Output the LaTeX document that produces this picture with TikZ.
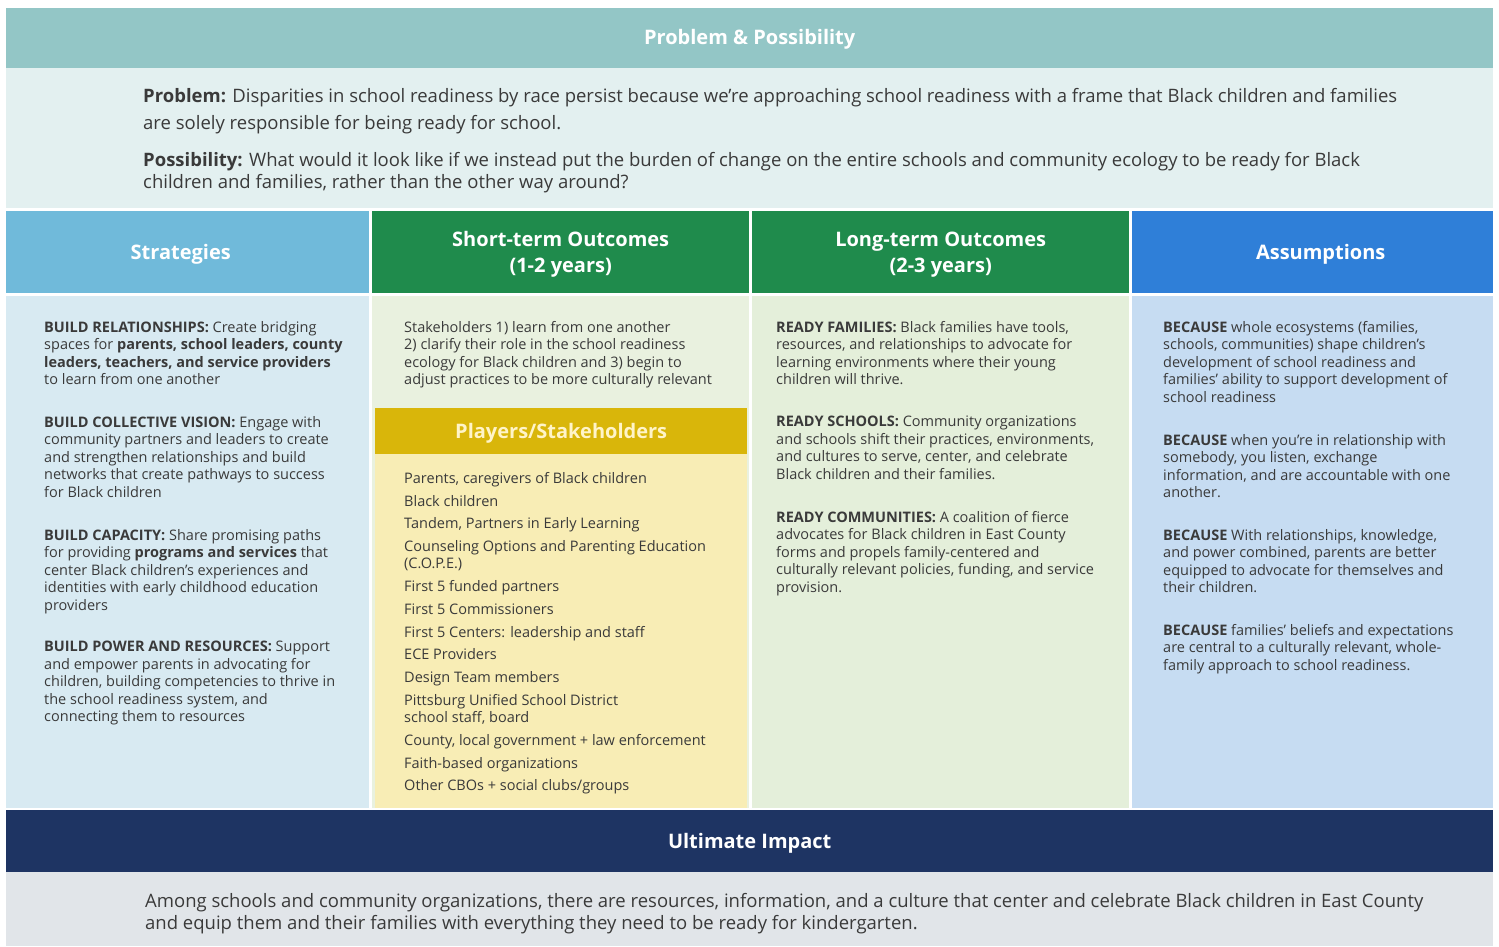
\documentclass[tikz,border=0pt]{standalone}
\usepackage{fontspec}
\setmainfont{Open Sans}
\definecolor{tealband}{HTML}{93C6C6}
\definecolor{teallight}{HTML}{E3F0F0}
\definecolor{stratblue}{HTML}{70BADA}
\definecolor{stratlight}{HTML}{D8EAF2}
\definecolor{outgreen}{HTML}{1F8B4C}
\definecolor{shortlight}{HTML}{E9F1DF}
\definecolor{longlight}{HTML}{E4EFDA}
\definecolor{playgold}{HTML}{D9B60A}
\definecolor{playlight}{HTML}{F8EDB5}
\definecolor{playtext}{HTML}{FFF4C8}
\definecolor{assumblue}{HTML}{2F7FD8}
\definecolor{assumlight}{HTML}{C6DCF2}
\definecolor{impactnavy}{HTML}{1E3463}
\definecolor{impactlight}{HTML}{E1E5E9}
\definecolor{inkgray}{HTML}{3A3A3A}
\newcommand\bodyfont{\fontsize{14.5}{17.5}\selectfont}
\newcommand\hdfont{\fontsize{20}{26}\selectfont\bfseries}
\newcommand\topfont{\fontsize{18.5}{22}\selectfont}
\tikzset{
	boxstyle/.style={anchor=north west, inner sep=0pt, draw=none},
	titlestyle/.style={text=white, font=\hdfont, align=center, yshift=-2.5pt},
	textstyle/.style={anchor=north west, inner sep=0pt, align=left, font=\bodyfont, text=inkgray}
}

\begin{document}
\begin{tikzpicture}[x=1pt, y=-1pt]

\def\colA{44}
\def\colB{404}
\def\colC{776}
\def\colD{1163}

\useasboundingbox[fill=white] (0,0) rectangle (1499,946);

% problem and possibility
\node[boxstyle, fill=tealband, minimum width=1487, minimum height=60] (pp) at (6,8) {};
\node[titlestyle, yshift=1.5pt] (pptitle) at (pp.center) {Problem \& Possibility};
\node[boxstyle, fill=teallight, minimum width=1487, minimum height=140] (ppbody) at (6,68) {};
\node[textstyle, font=\topfont] (problem) at (143,88) {\textbf{Problem:} Disparities in school readiness by race persist because we're approaching school readiness with a frame that Black children and families\\[5pt] are solely responsible for being ready for school.};
\node[textstyle, font=\topfont] (possibility) at (143,152) {\textbf{Possibility:} What would it look like if we instead put the burden of change on the entire schools and community ecology to be ready for Black\\ children and families, rather than the other way around?};

% column heads
\node[boxstyle, fill=stratblue, minimum width=363, minimum height=82] (h1) at (6,211) {};
\node[boxstyle, fill=outgreen, minimum width=377, minimum height=82] (h2) at (372,211) {};
\node[boxstyle, fill=outgreen, minimum width=377, minimum height=82] (h3) at (752,211) {};
\node[boxstyle, fill=assumblue, minimum width=361, minimum height=82] (h4) at (1132,211) {};
\node[titlestyle, xshift=-7pt] (h1title) at (h1.center) {Strategies};
\node[titlestyle] (h2title) at (h2.center) {Short-term Outcomes\\(1-2 years)};
\node[titlestyle] (h3title) at (h3.center) {Long-term Outcomes\\(2-3 years)};
\node[titlestyle, xshift=8pt] (h4title) at (h4.center) {Assumptions};

% column bodies
\node[boxstyle, fill=stratlight, minimum width=363, minimum height=512] (b1) at (6,296) {};
\node[boxstyle, fill=shortlight, minimum width=377, minimum height=512] (b2) at (372,296) {};
\node[boxstyle, fill=longlight, minimum width=377, minimum height=512] (b3) at (752,296) {};
\node[boxstyle, fill=assumlight, minimum width=361, minimum height=512] (b4) at (1132,296) {};
\node[boxstyle, fill=playgold, minimum width=372, minimum height=46] (ph) at (375,408) {};
\node[titlestyle, text=playtext] (phtitle) at (ph.center) {Players/Stakeholders};
\node[boxstyle, fill=playlight, minimum width=372, minimum height=354] (pb) at (375,454) {};

% strategies
\node[textstyle] (s1) at (\colA,321) {\textbf{BUILD RELATIONSHIPS:} Create bridging\\ spaces for \textbf{parents, school leaders, county}\\ \textbf{leaders, teachers, and service providers}\\ to learn from one another};
\node[textstyle] (s2) at (\colA,416) {\textbf{BUILD COLLECTIVE VISION:} Engage with\\ community partners and leaders to create\\ and strengthen relationships and build\\ networks that create pathways to success\\ for Black children};
\node[textstyle] (s3) at (\colA,529) {\textbf{BUILD CAPACITY:} Share promising paths\\ for providing \textbf{programs and services} that\\ center Black children's experiences and\\ identities with early childhood education\\ providers};
\node[textstyle] (s4) at (\colA,641) {\textbf{BUILD POWER AND RESOURCES:} Support\\ and empower parents in advocating for\\ children, building competencies to thrive in\\ the school readiness system, and\\ connecting them to resources};

% short-term outcomes and players
\node[textstyle] (st) at (\colB,321) {Stakeholders 1) learn from one another\\ 2) clarify their role in the school readiness\\ ecology for Black children and 3) begin to\\ adjust practices to be more culturally relevant};
\node[textstyle] (pl) at (\colB,472) {Parents, caregivers of Black children\\[5.2pt] Black children\\[5.2pt] Tandem, Partners in Early Learning\\[5.2pt] Counseling Options and Parenting Education\\ (C.O.P.E.)\\[5.2pt] First 5 funded partners\\[5.2pt] First 5 Commissioners\\[5.2pt] First 5 Centers: leadership and staff\\[5.2pt] ECE Providers\\[5.2pt] Design Team members\\[5.2pt] Pittsburg Unified School District\\ school staff, board\\[5.2pt] County, local government + law enforcement\\[5.2pt] Faith-based organizations\\[5.2pt] Other CBOs + social clubs/groups};

% long-term outcomes
\node[textstyle] (l1) at (\colC,321) {\textbf{READY FAMILIES:} Black families have tools,\\ resources, and relationships to advocate for\\ learning environments where their young\\ children will thrive.};
\node[textstyle] (l2) at (\colC,416) {\textbf{READY SCHOOLS:} Community organizations\\ and schools shift their practices, environments,\\ and cultures to serve, center, and celebrate\\ Black children and their families.};
\node[textstyle] (l3) at (\colC,511) {\textbf{READY COMMUNITIES:} A coalition of fierce\\ advocates for Black children in East County\\ forms and propels family-centered and\\ culturally relevant policies, funding, and service\\ provision.};

% assumptions
\node[textstyle] (a1) at (\colD,321) {\textbf{BECAUSE} whole ecosystems (families,\\ schools, communities) shape children's\\ development of school readiness and\\ families' ability to support development of\\ school readiness};
\node[textstyle] (a2) at (\colD,434) {\textbf{BECAUSE} when you're in relationship with\\ somebody, you listen, exchange\\ information, and are accountable with one\\ another.};
\node[textstyle] (a3) at (\colD,529) {\textbf{BECAUSE} With relationships, knowledge,\\ and power combined, parents are better\\ equipped to advocate for themselves and\\ their children.};
\node[textstyle] (a4) at (\colD,624) {\textbf{BECAUSE} families' beliefs and expectations\\ are central to a culturally relevant, whole-\\ family approach to school readiness.};

% ultimate impact
\node[boxstyle, fill=impactnavy, minimum width=1487, minimum height=62] (ui) at (6,810) {};
\node[titlestyle] (uititle) at (ui.center) {Ultimate Impact};
\node[boxstyle, fill=impactlight, minimum width=1487, minimum height=74] (uibody) at (6,872) {};
\node[textstyle, font=\topfont] (impact) at (145,893) {Among schools and community organizations, there are resources, information, and a culture that center and celebrate Black children in East County\\ and equip them and their families with everything they need to be ready for kindergarten.};

\end{tikzpicture}
\end{document}
